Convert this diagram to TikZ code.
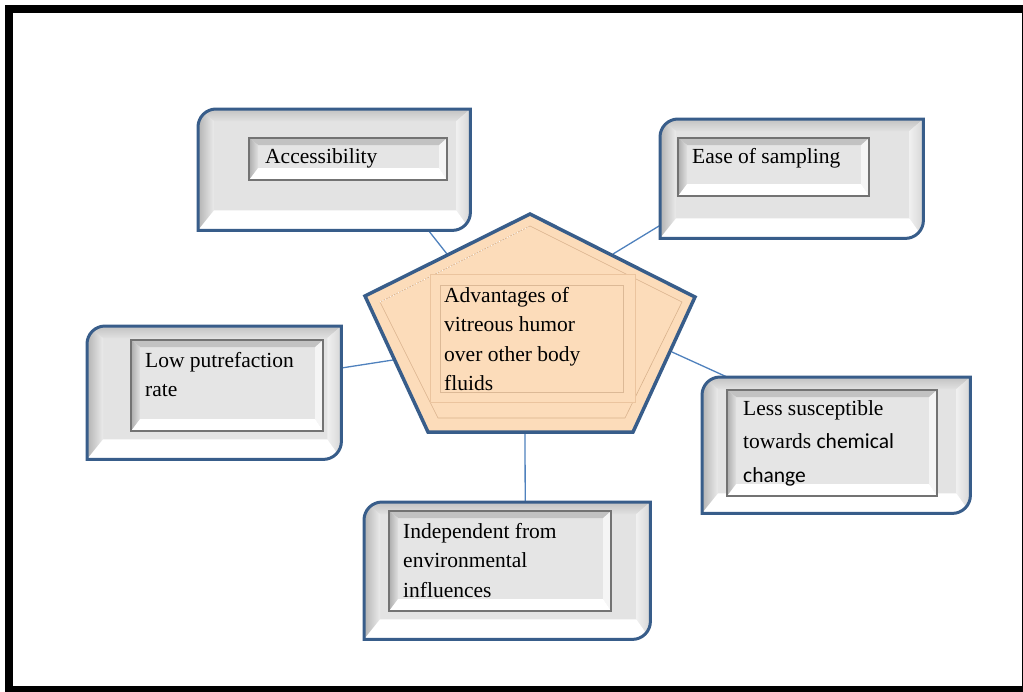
\documentclass[tikz,border=0pt]{standalone}
\usepackage{fontspec}
\setmainfont{Liberation Serif}
\newfontfamily\calibri{Carlito}
\usetikzlibrary{calc}

\definecolor{rimblue}{HTML}{385D8A}
\definecolor{linkblue}{HTML}{4F81BD}
\definecolor{peach}{HTML}{FCDCBA}
\definecolor{peachdark}{HTML}{EBC49E}

\begin{document}
\begin{tikzpicture}[x=1pt,y=-1pt,
  panel/.style={inner sep=0pt,anchor=north west},
  plate/.style={draw=black!55,line width=2.2pt,fill=black!10,inner sep=0pt,anchor=north west,
    path picture={
      \coordinate (pnw) at (path picture bounding box.north west);
      \coordinate (pne) at (path picture bounding box.north east);
      \coordinate (psw) at (path picture bounding box.south west);
      \coordinate (pse) at (path picture bounding box.south east);
      \fill[black!24] (pnw) -- (pne) -- ([shift={(-8pt,-7pt)}]pne) -- ([shift={(9pt,-7pt)}]pnw) -- cycle;
      \shade[left color=black!32,right color=black!12] (pnw) -- ([shift={(9pt,-7pt)}]pnw) -- ([shift={(9pt,12pt)}]psw) -- (psw) -- cycle;
      \fill[black!4] (pne) -- (pse) -- ([shift={(-8pt,12pt)}]pse) -- ([shift={(-8pt,-7pt)}]pne) -- cycle;
      \fill[white] (psw) -- (pse) -- ([shift={(-8pt,12pt)}]pse) -- ([shift={(9pt,12pt)}]psw) -- cycle;
    }},
  caption/.style={inner sep=0pt,anchor=north west,align=left,font=\fontsize{21.5}{29.5}\selectfont},
  link/.style={draw=linkblue,line width=1.3pt},
  rim/.style={draw=rimblue,line width=3pt}]
\useasboundingbox (0,0) rectangle (1023,691);

% Page frame
\draw[line width=8pt] (9,9) rectangle (1026,690);

% Outer panels
\node[panel,minimum width=272pt,minimum height=121pt] (acc) at (198,109) {};
\node[panel,minimum width=263pt,minimum height=119pt] (ease) at (660,119) {};
\node[panel,minimum width=254pt,minimum height=133pt] (low) at (87,326) {};
\node[panel,minimum width=268pt,minimum height=136pt] (less) at (702,377) {};
\node[panel,minimum width=286pt,minimum height=137pt] (ind) at (364,502) {};

% Where the connectors meet the pentagon
\coordinate (hubA) at (447,254);
\coordinate (hubB) at (613,254);
\coordinate (hubC) at (393,360);
\coordinate (hubD) at (672,352);
\coordinate (hubE) at (525,432);

\draw[link] ([xshift=-42pt]acc.south east) -- (hubA);
\draw[link] ([yshift=13pt]ease.south west) -- (hubB);
\draw[link] ([yshift=-42pt]low.north east) -- (hubC);
\draw[link] ([xshift=25pt]less.north west) -- (hubD);
\draw[link] ([xshift=18pt]ind.north) -- (hubE);

% Bevelled panels
\foreach \n in {acc,ease,low,less,ind} {
  \begin{scope}
    \clip (\n.north east) -- ([yshift=18pt]\n.south east) arc[start angle=0,end angle=-90,radius=18pt]
      -- (\n.south west) -- ([yshift=-18pt]\n.north west) arc[start angle=180,end angle=90,radius=18pt] -- cycle;
    \fill[black!11] (\n.north west) rectangle (\n.south east);
    \shade[top color=black!24,bottom color=black!12] (\n.north west) -- (\n.north east)
      -- ([shift={(-14pt,-12pt)}]\n.north east) -- ([shift={(16pt,-12pt)}]\n.north west) -- cycle;
    \shade[left color=black!30,right color=black!8] (\n.north west) -- ([shift={(16pt,-12pt)}]\n.north west)
      -- ([shift={(16pt,20pt)}]\n.south west) -- (\n.south west) -- cycle;
    \shade[left color=black!6,right color=black!16] (\n.north east) -- (\n.south east)
      -- ([shift={(-14pt,20pt)}]\n.south east) -- ([shift={(-14pt,-12pt)}]\n.north east) -- cycle;
    \fill[white] (\n.south west) -- (\n.south east)
      -- ([shift={(-14pt,20pt)}]\n.south east) -- ([shift={(16pt,20pt)}]\n.south west) -- cycle;
  \end{scope}
  \draw[rim] (\n.north east) -- ([yshift=18pt]\n.south east) arc[start angle=0,end angle=-90,radius=18pt]
    -- (\n.south west) -- ([yshift=-18pt]\n.north west) arc[start angle=180,end angle=90,radius=18pt] -- cycle;
}

% Inner plates and texts
\node[plate,minimum width=198pt,minimum height=42pt] (accp) at (248,137) {};
\node[caption] (acct) at (265,148) {Accessibility};

\node[plate,minimum width=191pt,minimum height=58pt] (easep) at (677,137) {};
\node[caption] (easet) at (692,148) {Ease of sampling};

\node[plate,minimum width=192pt,minimum height=91pt] (lowp) at (130,339) {};
\node[caption] (lowt) at (145,352) {Low putrefaction\\rate};

\node[plate,minimum width=210pt,minimum height=106pt] (lessp) at (726,389) {};
\node[caption,font=\fontsize{21.5}{33.5}\selectfont] (lesst) at (743,400) {Less susceptible\\towards {\calibri chemical}\\{\calibri change}};

\node[plate,minimum width=222pt,minimum height=100pt] (indp) at (388,510) {};
\node[caption] (indt) at (403,523) {Independent from\\environmental\\influences};

% Central pentagon
\coordinate (p1) at (530,214);
\coordinate (p2) at (695,297);
\coordinate (p3) at (633,432);
\coordinate (p4) at (428,432);
\coordinate (p5) at (365,296);
\filldraw[fill=peach,rim,line width=3.5pt] (p1) -- (p2) -- (p3) -- (p4) -- (p5) -- cycle;
\draw[brown!60,line width=0.6pt] (530,226) -- (682,302) -- (625,418) -- (438,418) -- (380,302) -- cycle;
\draw[white,dotted,line width=0.9pt] (380,302) -- (530,226);

\node[panel,draw=peachdark,fill=peach,line width=1.2pt,minimum width=205pt,minimum height=128pt] (hubframe) at (430,274) {};
\node[panel,draw=brown!55,line width=0.8pt,minimum width=183pt,minimum height=107pt] (hubin) at (440,285) {};
\node[caption] (hubt) at (444,287) {Advantages of\\vitreous humor\\over other body\\fluids};
\end{tikzpicture}
\end{document}
